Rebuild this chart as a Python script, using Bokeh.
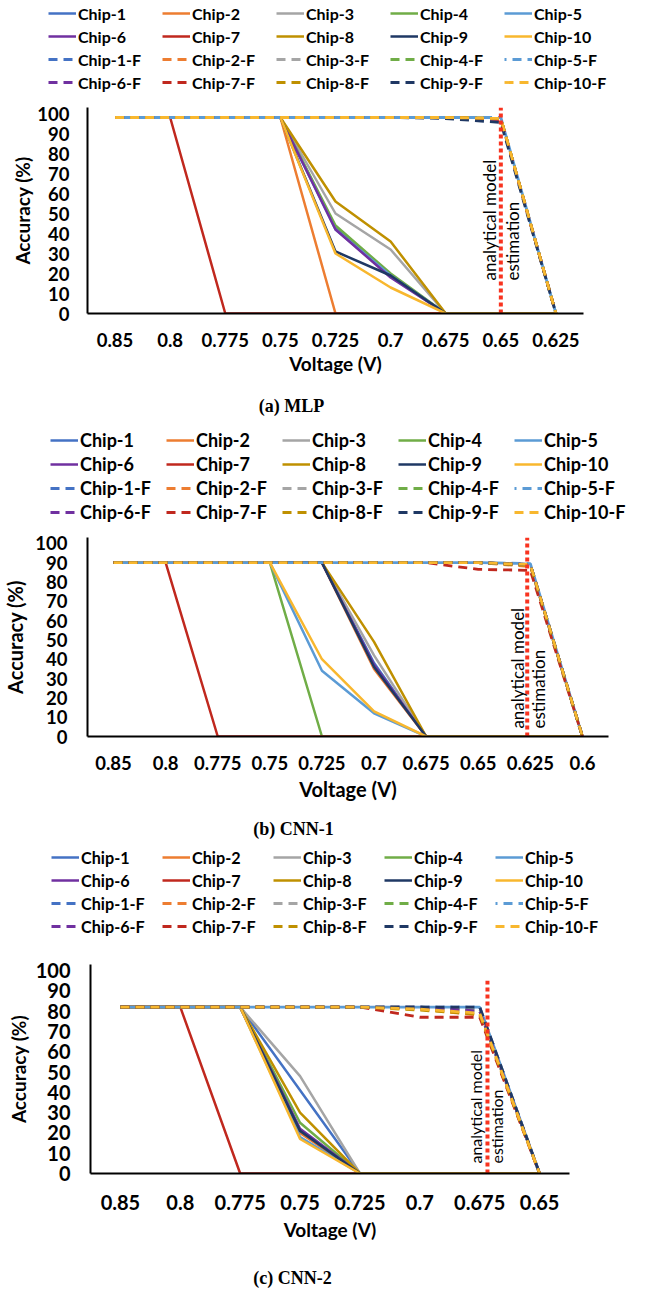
import math
from bokeh.plotting import figure
from bokeh.models import FactorRange, Range1d, Legend, LegendItem, FixedTicker, Title, Label
from bokeh.layouts import column
from bokeh.embed import file_html
from bokeh.resources import INLINE
from bokeh.core.properties import value

# ---------------- data ----------------
chip_names = [f"Chip-{i}" for i in range(1, 11)]
fault_names = [f"Chip-{i}-F" for i in range(1, 11)]
chip_colors = ["#4472C4", "#ED7D31", "#A5A5A5", "#70AD47", "#5B9BD5",
               "#7030A0", "#C0281E", "#BF9000", "#1F3864", "#F8B72E"]

# (a) MLP
mlp_volts = ["0.85", "0.8", "0.775", "0.75", "0.725", "0.7", "0.675", "0.65", "0.625"]
mlp_solid = [
    [98, 98, 98, 98, 43, 19, 0, 0, 0],
    [98, 98, 98, 98, 0, 0, 0, 0, 0],
    [98, 98, 98, 98, 50, 32, 0, 0, 0],
    [98, 98, 98, 98, 44, 20, 0, 0, 0],
    [98, 98, 98, 98, 42, 19, 0, 0, 0],
    [98, 98, 98, 98, 42, 18, 0, 0, 0],
    [98, 98, 0, 0, 0, 0, 0, 0, 0],
    [98, 98, 98, 98, 56, 36, 0, 0, 0],
    [98, 98, 98, 98, 31, 19, 0, 0, 0],
    [98, 98, 98, 98, 30, 13, 0, 0, 0],
]
mlp_fault = [
    [98, 98, 98, 98, 98, 98, 98, 97.5, 0],
    [98, 98, 98, 98, 98, 98, 98, 97.5, 0],
    [98, 98, 98, 98, 98, 98, 98, 97.5, 0],
    [98, 98, 98, 98, 98, 98, 98, 97.5, 0],
    [98, 98, 98, 98, 98, 98, 98, 98, 0],
    [98, 98, 98, 98, 98, 98, 98, 97, 0],
    [98, 98, 98, 98, 98, 98, 98, 97, 0],
    [98, 98, 98, 98, 98, 98, 98, 97.5, 0],
    [98, 98, 98, 98, 98, 98, 97.5, 95.5, 0],
    [98, 98, 98, 98, 98, 98, 98, 97.5, 0],
]
mlp_estimate = "0.65"

# (b) CNN-1
cnn1_volts = ["0.85", "0.8", "0.775", "0.75", "0.725", "0.7", "0.675", "0.65", "0.625", "0.6"]
cnn1_solid = [
    [90, 90, 90, 90, 90, 38, 0, 0, 0, 0],
    [90, 90, 90, 90, 90, 35, 0, 0, 0, 0],
    [90, 90, 90, 90, 90, 42, 0, 0, 0, 0],
    [90, 90, 90, 90, 0, 0, 0, 0, 0, 0],
    [90, 90, 90, 90, 34, 12, 0, 0, 0, 0],
    [90, 90, 90, 90, 90, 37, 0, 0, 0, 0],
    [90, 90, 0, 0, 0, 0, 0, 0, 0, 0],
    [90, 90, 90, 90, 90, 49, 0, 0, 0, 0],
    [90, 90, 90, 90, 90, 36, 0, 0, 0, 0],
    [90, 90, 90, 90, 40, 13, 0, 0, 0, 0],
]
cnn1_fault = [
    [90, 90, 90, 90, 90, 90, 90, 90, 89, 0],
    [90, 90, 90, 90, 90, 90, 90, 90, 88, 0],
    [90, 90, 90, 90, 90, 90, 90, 90, 89, 0],
    [90, 90, 90, 90, 90, 90, 90, 90, 89, 0],
    [90, 90, 90, 90, 90, 90, 90, 90, 89.5, 0],
    [90, 90, 90, 90, 90, 90, 90, 90, 89, 0],
    [90, 90, 90, 90, 90, 90, 90, 86.5, 86, 0],
    [90, 90, 90, 90, 90, 90, 90, 90, 88.5, 0],
    [90, 90, 90, 90, 90, 90, 90, 90, 89, 0],
    [90, 90, 90, 90, 90, 90, 90, 90, 89, 0],
]
cnn1_estimate = "0.625"

# (c) CNN-2
cnn2_volts = ["0.85", "0.8", "0.775", "0.75", "0.725", "0.7", "0.675", "0.65"]
cnn2_solid = [
    [82, 82, 82, 41, 0, 0, 0, 0],
    [82, 82, 82, 20, 0, 0, 0, 0],
    [82, 82, 82, 48, 0, 0, 0, 0],
    [82, 82, 82, 25, 0, 0, 0, 0],
    [82, 82, 82, 18, 0, 0, 0, 0],
    [82, 82, 82, 22, 0, 0, 0, 0],
    [82, 82, 0, 0, 0, 0, 0, 0],
    [82, 82, 82, 30, 0, 0, 0, 0],
    [82, 82, 82, 21, 0, 0, 0, 0],
    [82, 82, 82, 17, 0, 0, 0, 0],
]
cnn2_fault = [
    [82, 82, 82, 82, 82, 82, 82, 0],
    [82, 82, 82, 82, 82, 81, 78, 0],
    [82, 82, 82, 82, 82, 82, 81, 0],
    [82, 82, 82, 82, 82, 82, 80, 0],
    [82, 82, 82, 82, 82, 82, 82, 0],
    [82, 82, 82, 82, 82, 82, 80, 0],
    [82, 82, 82, 82, 82, 77, 77, 0],
    [82, 82, 82, 82, 82, 80.5, 78.5, 0],
    [82, 82, 82, 82, 82, 82, 82, 0],
    [82, 82, 82, 82, 82, 81, 79, 0],
]
cnn2_estimate = "0.675"

y_ticks = [0, 10, 20, 30, 40, 50, 60, 70, 80, 90, 100]

FONT = "Lato"
SOLID_W = 2.5
FAULT_W = 2.8
FAULT_DASH = "9 6"


def fault_offset(i):
    return 7 if i == 4 else 0


def bare_fig(height, x_range, y_range):
    p = figure(width=645, height=height, x_range=x_range, y_range=y_range,
               output_backend="svg", toolbar_location=None, title=None,
               x_axis_location=None, y_axis_location=None,
               min_border_left=0, min_border_right=0, min_border_top=0, min_border_bottom=0)
    p.frame_align = False
    p.outline_line_color = None
    p.xgrid.visible = False
    p.ygrid.visible = False
    return p


def add_series(p, volts, solid, fault):
    solid_r, fault_r = [], []
    for i in range(10):
        solid_r.append(p.line(x=volts, y=solid[i], line_color=chip_colors[i], line_width=SOLID_W))
    for i in range(10):
        fault_r.append(p.line(x=volts, y=fault[i], line_color=chip_colors[i], line_width=FAULT_W,
                              line_dash=FAULT_DASH, line_dash_offset=fault_offset(i)))
    return solid_r, fault_r


def make_legend_fig(volts, solid, fault, cfg):
    # strip that only shows the legend; the series it refers to lie outside its y-range
    p = bare_fig(cfg["leg_h"], FactorRange(*volts, range_padding=0), Range1d(200, 201))
    solid_r, fault_r = add_series(p, volts, solid, fault)
    items = [LegendItem(label=n, renderers=[r]) for n, r in zip(chip_names, solid_r)]
    items += [LegendItem(label=n, renderers=[r]) for n, r in zip(fault_names, fault_r)]
    legend = Legend(items=items, location=cfg["leg_loc"], orientation="horizontal", ncols=5,
                    glyph_width=28, glyph_height=cfg["leg_lh"], label_width=cfg["leg_lw"],
                    label_height=cfg["leg_lh"],
                    label_standoff=2, spacing=cfg["leg_sp"], padding=0, margin=0,
                    border_line_color=None, background_fill_alpha=0,
                    label_text_font=FONT, label_text_font_style="bold",
                    label_text_font_size=cfg["leg_fs"], label_text_color="black")
    p.add_layout(legend)
    return p


def make_caption_fig(cfg):
    p = bare_fig(cfg["cap_h"], Range1d(0, 1), Range1d(0, 1))
    p.add_layout(Label(x=cfg["cap_x"], y=cfg["cap_y"], x_units="screen", y_units="screen",
                       text=cfg["caption"], text_align="center", text_baseline="middle",
                       text_font="Liberation Serif", text_font_style="bold",
                       text_font_size="18px", text_color="black"))
    return p


def make_panel(volts, solid, fault, estimate, cfg):
    p = figure(width=645, height=cfg["height"],
               x_range=FactorRange(*volts, range_padding=0),
               y_range=Range1d(0, 103),
               output_backend="svg", toolbar_location=None, title=None,
               min_border_left=cfg["fl"], min_border_right=cfg["fr"],
               min_border_top=cfg["ft"], min_border_bottom=cfg["fb"])
    p.frame_align = False
    p.outline_line_color = None
    p.xgrid.visible = False
    p.ygrid.visible = False

    for ax in (p.xaxis, p.yaxis):
        ax.axis_line_color = "black"
        ax.axis_line_width = 2
        ax.major_tick_line_color = None
        ax.minor_tick_line_color = None
        ax.major_tick_out = 0
        ax.major_tick_in = 0
        ax.minor_tick_out = 0
        ax.minor_tick_in = 0
        ax.major_label_text_font = FONT
        ax.major_label_text_font_style = "bold"
        ax.major_label_text_font_size = cfg["tick_fs"]
        ax.major_label_text_color = "black"
    p.xaxis.major_label_standoff = cfg["xstand"]
    p.yaxis.major_label_standoff = cfg["ystand"]
    p.yaxis.ticker = FixedTicker(ticks=y_ticks)
    p.yaxis.axis_label = "Accuracy (%)"
    p.yaxis.axis_label_text_font = FONT
    p.yaxis.axis_label_text_font_style = "bold"
    p.yaxis.axis_label_text_font_size = cfg["title_fs"]
    p.yaxis.axis_label_text_color = "black"
    p.yaxis.axis_label_standoff = cfg["ytitle_stand"]

    add_series(p, volts, solid, fault)

    # analytical model estimation marker
    ex = volts.index(estimate) + 0.5 + cfg["est_off"]
    p.segment(x0=[ex], y0=[0], x1=[ex], y1=[cfg["est_top"]],
              line_color="#F8331F", line_width=4, line_dash="4 3")
    for txt, dx in (("analytical model", cfg["txt_dx"][0]), ("estimation", cfg["txt_dx"][1])):
        p.text(x=[ex], y=[cfg["txt_y"]], text=[txt], angle=math.pi / 2, x_offset=dx,
               text_align="left", text_baseline="middle",
               text_font=value(FONT), text_font_size=cfg["txt_fs"], text_color="black")

    xt = Title(text="Voltage (V)", align="center", vertical_align="middle",
               offset=cfg["xt_off"], standoff=cfg["xt_stand"],
               text_font=FONT, text_font_style="bold", text_font_size=cfg["title_fs"],
               text_color="black")
    p.add_layout(xt, "below")
    return p


cfg_a = dict(leg_h=97, leg_loc=(48, 5), leg_lw=81, leg_lh=20, leg_sp=3, leg_fs="16px",
             height=293, fl=87, fr=62, ft=10, fb=77,
             tick_fs="18.5px", xstand=19, ystand=18, ytitle_stand=0,
             est_off=0.0, est_top=103, txt_y=16.5, txt_dx=(-11, 12), txt_fs="17px",
             title_fs="19px", xt_off=-42, xt_stand=2,
             cap_h=35, caption="(a) MLP", cap_x=291, cap_y=20)
cfg_b = dict(leg_h=100, leg_loc=(50, 2), leg_lw=84, leg_lh=22, leg_sp=2, leg_fs="18px",
             height=287, fl=87, fr=37, ft=12, fb=76,
             tick_fs="18.5px", xstand=19, ystand=20, ytitle_stand=5,
             est_off=-0.06, est_top=103, txt_y=4.1, txt_dx=(-10, 11), txt_fs="17px",
             title_fs="20px", xt_off=-3, xt_stand=6,
             cap_h=33, caption="(b) CNN-1", cap_x=293, cap_y=17)
cfg_c = dict(leg_h=99, leg_loc=(51, 8), leg_lw=78, leg_lh=20, leg_sp=3, leg_fs="16.2px",
             height=316, fl=90, fr=76, ft=20, fb=87,
             tick_fs="20px", xstand=21, ystand=20, ytitle_stand=3,
             est_off=0.13, est_top=95, txt_y=4.9, txt_dx=(-12, 9), txt_fs="16px",
             title_fs="19px", xt_off=-30, xt_stand=9,
             cap_h=32, caption="(c) CNN-2", cap_x=292, cap_y=15)

figs = []
for volts, solid, fault, est, cfg in (
        (mlp_volts, mlp_solid, mlp_fault, mlp_estimate, cfg_a),
        (cnn1_volts, cnn1_solid, cnn1_fault, cnn1_estimate, cfg_b),
        (cnn2_volts, cnn2_solid, cnn2_fault, cnn2_estimate, cfg_c)):
    figs.append(make_legend_fig(volts, solid, fault, cfg))
    figs.append(make_panel(volts, solid, fault, est, cfg))
    figs.append(make_caption_fig(cfg))

layout = column(*figs, spacing=0)
open("out.html", "w").write(file_html(layout, INLINE))
